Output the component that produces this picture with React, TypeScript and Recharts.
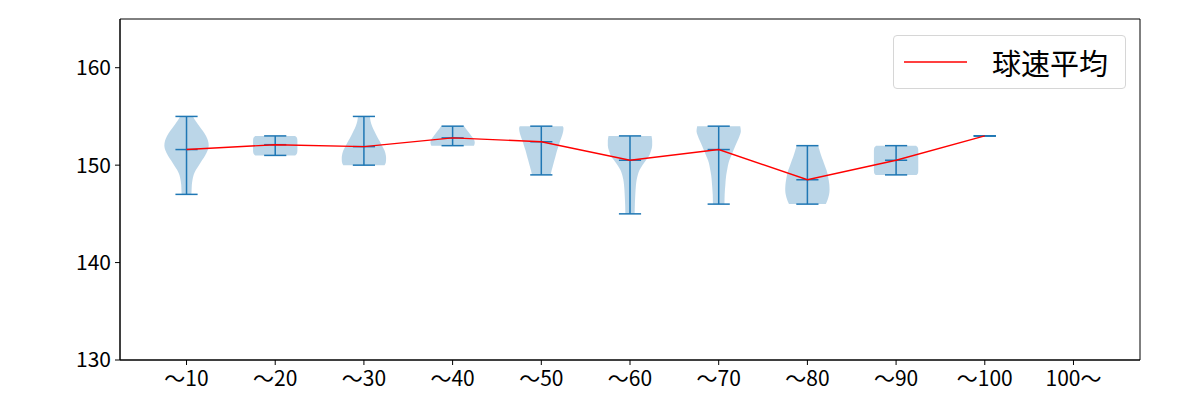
import { ComposedChart, Area, Line, XAxis, YAxis, ReferenceLine, ReferenceArea, Legend } from 'recharts'

// pitch-count bins on the x axis
const categories = ['～10', '～20', '～30', '～40', '～50', '～60', '～70', '～80', '～90', '～100', '100～']
const positions = [1, 2, 3, 4, 5, 6, 7, 8, 9, 10, 11]

// speed stats per bin (km/h); last bin has no pitches
const means = [151.6, 152.1, 151.9, 152.8, 152.4, 150.5, 151.6, 148.5, 150.5, 153.0]
const mins = [147, 151, 150, 152, 149, 145, 146, 146, 149, 153]
const maxes = [155, 153, 155, 154, 154, 153, 154, 152, 152, 153]

// violin outline: [speed, relative half-width]
const profiles: [number, number][][] = [
  [[147, 0.22], [147.5, 0.23], [148, 0.24], [148.5, 0.27], [149, 0.32], [149.5, 0.42], [150, 0.56], [150.5, 0.7], [151, 0.84], [151.5, 0.95], [152, 1.0], [152.5, 0.97], [153, 0.88], [153.5, 0.74], [154, 0.58], [154.5, 0.42], [155, 0.29]],
  [[151, 0.9], [151.2, 0.98], [151.5, 1.0], [152.5, 1.0], [152.8, 0.98], [153, 0.9]],
  [[150, 0.93], [150.3, 0.99], [150.7, 1.0], [151, 0.99], [151.5, 0.93], [152, 0.82], [152.5, 0.7], [153, 0.58], [153.5, 0.47], [154, 0.37], [154.5, 0.3], [155, 0.27]],
  [[152, 0.96], [152.3, 1.0], [152.6, 0.97], [153, 0.85], [153.5, 0.68], [154, 0.52]],
  [[149, 0.42], [149.5, 0.47], [150, 0.53], [150.5, 0.59], [151, 0.65], [151.5, 0.71], [152, 0.78], [152.5, 0.85], [153, 0.93], [153.5, 0.99], [153.8, 1.0], [154, 0.97]],
  [[145, 0.21], [146, 0.22], [147, 0.24], [148, 0.27], [148.5, 0.3], [149, 0.35], [149.5, 0.43], [150, 0.56], [150.5, 0.72], [151, 0.87], [151.5, 0.95], [152, 1.0], [152.5, 1.0], [153, 0.97]],
  [[146, 0.26], [147, 0.27], [148, 0.3], [149, 0.34], [149.5, 0.38], [150, 0.42], [150.5, 0.48], [151, 0.57], [151.5, 0.66], [152, 0.75], [152.5, 0.85], [153, 0.94], [153.5, 1.0], [154, 0.97]],
  [[146, 0.83], [146.5, 0.92], [147, 0.98], [147.5, 1.0], [148, 0.99], [148.5, 0.96], [149, 0.92], [149.5, 0.86], [150, 0.78], [150.5, 0.7], [151, 0.62], [151.5, 0.55], [152, 0.49]],
  [[149, 0.92], [149.2, 0.99], [149.5, 1.0], [151.5, 1.0], [151.8, 0.98], [152, 0.9]],
  [],
]

const yTicks = [130, 140, 150, 160]

const HALF = 0.25
const CAP = 0.125
const BLUE = '#1f77b4'
const FONT = '"Noto Sans CJK JP", "Noto Sans", sans-serif'

const violinData = profiles.map((prof, i) =>
  prof.map(([v, f]) => ({ v, band: [positions[i] - f * HALF, positions[i] + f * HALF] })),
)

const meanData = means.map((m, i) => ({ v: m, x: positions[i] }))

const LegendBox = () => (
  <div
    style={{
      boxSizing: 'border-box',
      width: 233,
      height: 54,
      border: '1px solid #d6d6d6',
      borderRadius: 4,
      background: 'rgba(255,255,255,0.8)',
      display: 'flex',
      alignItems: 'center',
      fontFamily: FONT,
      fontSize: 29,
      color: '#000',
    }}
  >
    <svg width={98} height={20} style={{ flex: 'none' }}>
      <line x1={10} x2={73} y1={10} y2={10} stroke="red" strokeWidth={1.5} />
    </svg>
    <span style={{ lineHeight: 1 }}>球速平均</span>
  </div>
)

export default function App() {
  return (
    <div style={{ position: 'absolute', left: 0, top: 0 }}>
      <ComposedChart
        width={1200}
        height={400}
        layout="vertical"
        margin={{ top: 19, right: 60, bottom: 0, left: 0 }}
      >
        <XAxis
          type="number"
          dataKey="x"
          domain={[0.25, 11.75]}
          ticks={positions}
          tickFormatter={(p: number) => categories[p - 1]}
          allowDataOverflow
          height={40}
          tickSize={5}
          tickMargin={6}
          interval={0}
          stroke="#000"
          tick={{ fill: '#000', fontSize: 21, fontFamily: FONT }}
        />
        <YAxis
          type="number"
          dataKey="v"
          domain={[130, 165]}
          ticks={yTicks}
          reversed
          allowDataOverflow
          width={120}
          tickSize={5}
          tickMargin={4}
          stroke="#000"
          tick={{ fill: '#000', fontSize: 21, fontFamily: FONT }}
        />
        <ReferenceArea x1={0.25} x2={11.75} y1={130} y2={165} fill="none" stroke="#000" strokeWidth={1} />
        {violinData.map((d, i) =>
          d.length ? (
            <Area
              key={'vio' + i}
              data={d}
              dataKey="band"
              type="monotone"
              fill={BLUE}
              fillOpacity={0.3}
              stroke="none"
              isAnimationActive={false}
              legendType="none"
            />
          ) : null,
        )}
        {means.map((m, i) => (
          <ReferenceLine
            key={'bar' + i}
            segment={[{ x: positions[i], y: mins[i] }, { x: positions[i], y: maxes[i] }]}
            stroke={BLUE}
            strokeWidth={1.5}
          />
        ))}
        {means.map((m, i) =>
          [mins[i], maxes[i], m].map((v, k) => (
            <ReferenceLine
              key={'cap' + i + '-' + k}
              segment={[{ x: positions[i] - CAP, y: v }, { x: positions[i] + CAP, y: v }]}
              stroke={BLUE}
              strokeWidth={1.5}
            />
          )),
        )}
        <Line
          data={meanData}
          dataKey="x"
          name="球速平均"
          stroke="#ff0000"
          strokeWidth={1.4}
          dot={false}
          isAnimationActive={false}
        />
        <Legend
          verticalAlign="middle"
          align="center"
          content={<LegendBox />}
          wrapperStyle={{ top: 35, left: 893, width: 233, height: 54 }}
        />
      </ComposedChart>
    </div>
  )
}
